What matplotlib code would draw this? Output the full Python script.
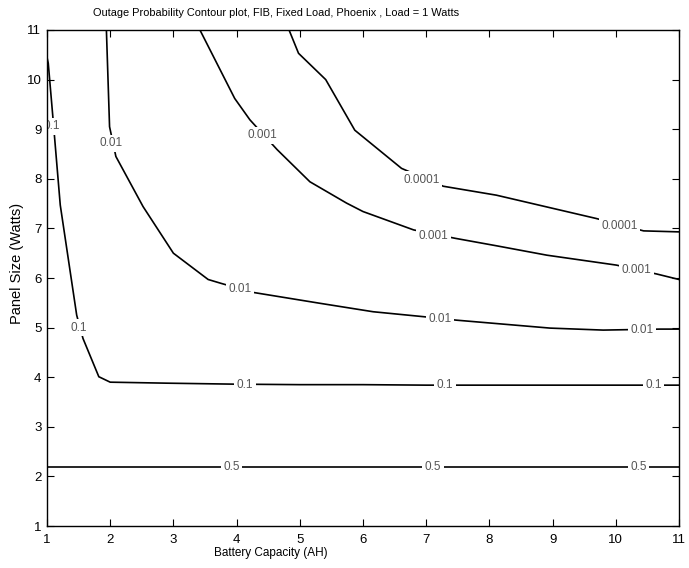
import matplotlib
matplotlib.use("Agg")
import matplotlib.pyplot as plt

plt.rcParams['font.family'] = ['Liberation Sans', 'DejaVu Sans']

# Outage probability contour levels and their traced paths
# (battery capacity in AH, panel size in Watts)
level_05 = 0.5
x_05 = [1.0, 11.0]
y_05 = [2.18, 2.18]

level_01 = 0.1
x_01 = [1.0, 1.02, 1.09, 1.21, 1.34, 1.47, 1.57, 1.82, 2.0, 2.89, 3.97, 5.0, 6.0, 7.0, 8.0, 9.0, 10.0, 11.0]
y_01 = [10.45, 10.33, 9.29, 7.47, 6.36, 5.25, 4.78, 4.01, 3.90, 3.88, 3.86, 3.85, 3.85, 3.84, 3.84, 3.84, 3.84, 3.84]

level_001 = 0.01
x_001 = [1.94, 1.99, 2.09, 2.52, 3.0, 3.55, 3.76, 4.26, 5.32, 6.16, 6.96, 7.48, 8.96, 9.8, 10.7, 11.0]
y_001 = [11.0, 9.05, 8.45, 7.44, 6.5, 5.97, 5.89, 5.71, 5.49, 5.32, 5.22, 5.15, 4.99, 4.95, 4.97, 4.97]

level_0001 = 0.001
x_0001 = [3.42, 3.97, 4.21, 4.64, 5.16, 5.74, 6.0, 6.80, 7.46, 8.11, 8.91, 10.01, 10.65, 11.0]
y_0001 = [11.0, 9.62, 9.19, 8.59, 7.94, 7.51, 7.34, 6.97, 6.80, 6.65, 6.46, 6.26, 6.08, 5.97]

level_00001 = 0.0001
x_00001 = [4.83, 4.98, 5.41, 5.87, 6.61, 7.27, 8.11, 9.69, 10.44, 11.0]
y_00001 = [11.0, 10.53, 10.0, 8.98, 8.21, 7.85, 7.67, 7.20, 6.95, 6.93]

# Where each contour carries its inline label
lab_x_05 = [3.92, 7.11, 10.36]
lab_y_05 = [2.18, 2.18, 2.18]
lab_x_01 = [1.08, 1.51, 4.13, 7.3, 10.6]
lab_y_01 = [9.06, 5.0, 3.85, 3.84, 3.84]
lab_x_001 = [2.01, 4.05, 7.22, 10.41]
lab_y_001 = [8.72, 5.78, 5.17, 4.95]
lab_x_0001 = [4.41, 7.11, 10.33]
lab_y_0001 = [8.88, 6.85, 6.16]
lab_x_00001 = [6.93, 10.06]
lab_y_00001 = [7.98, 7.05]

contours = [
    (level_05, x_05, y_05, lab_x_05, lab_y_05),
    (level_01, x_01, y_01, lab_x_01, lab_y_01),
    (level_001, x_001, y_001, lab_x_001, lab_y_001),
    (level_0001, x_0001, y_0001, lab_x_0001, lab_y_0001),
    (level_00001, x_00001, y_00001, lab_x_00001, lab_y_00001),
]

fig = plt.figure(figsize=(6.89, 5.68), dpi=100)
ax = fig.add_axes([0.0682, 0.0739, 0.9173, 0.8733])

for level, xs, ys, lxs, lys in contours:
    ax.plot(xs, ys, color='black', linewidth=1.2, zorder=2, solid_joinstyle='miter')
    for lx, ly in zip(lxs, lys):
        ax.text(lx, ly, f"{level:g}", fontsize=8.5, color='#555555',
                ha='center', va='center', zorder=2.3, clip_on=True,
                bbox=dict(facecolor='white', edgecolor='none', pad=1.8))

ax.set_xlim(1, 11)
ax.set_ylim(1, 11)
ax.set_xticks(range(1, 12))
ax.set_yticks(range(1, 12))
ax.tick_params(direction='in', length=5, width=0.8, top=True, right=True,
               labelsize=9.5, pad=4)
ax.tick_params(axis='x', pad=6)
for sp in ax.spines.values():
    sp.set_linewidth(1.0)
    sp.set_zorder(3)

fig.text(276 / 689, 1 - 13 / 568,
         "Outage Probability Contour plot, FIB, Fixed Load, Phoenix , Load = 1 Watts",
         fontsize=7.9, ha='center', va='center')
fig.text(271 / 689, 1 - 553 / 568, "Battery Capacity (AH)",
         fontsize=8.5, ha='center', va='center')
ax.set_ylabel("Panel Size (Watts)", fontsize=10.5)
ax.yaxis.set_label_coords(-0.036, 0.53)

fig.savefig("out.png", dpi=100)
